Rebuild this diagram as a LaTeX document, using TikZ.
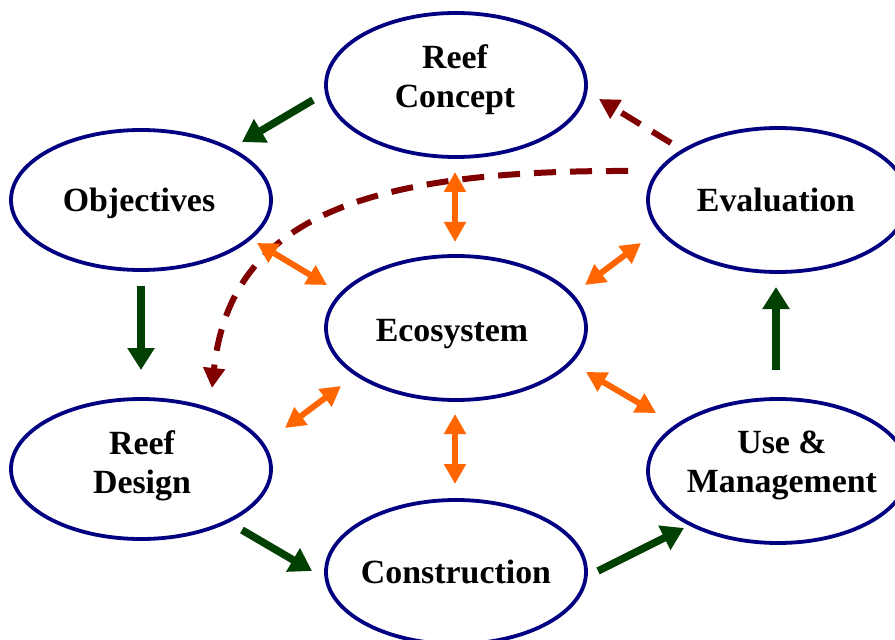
\documentclass[tikz,border=0pt]{standalone}
\usepackage{fontspec}
\setmainfont{Liberation Serif}
\usetikzlibrary{shapes.geometric,arrows.meta}
\definecolor{navy}{RGB}{0,0,128}
\definecolor{dgreen}{RGB}{0,64,0}
\definecolor{dred}{RGB}{128,0,0}
\definecolor{orng}{RGB}{255,102,0}
\begin{document}
\begin{tikzpicture}[x=1bp,y=-1bp,
 stage/.style={ellipse, draw=navy, line width=3.8bp, fill=white, minimum width=260bp, minimum height=144bp, inner sep=0pt},
 lbl/.style={font=\fontsize{34}{39}\selectfont\bfseries, align=center, inner sep=0pt},
 flow/.style={draw=dgreen, line width=7.5bp, -{Triangle[length=22bp,width=26bp]}},
 back/.style={draw=dred, line width=6bp, dash pattern=on 22bp off 14bp, -{Triangle[length=20bp,width=21bp]}},
 link/.style={draw=orng, line width=6bp, {Triangle[length=20bp,width=21bp]}-{Triangle[length=20bp,width=21bp]}}]
\fill[white] (0,0) rectangle (895,640);
\useasboundingbox (0,0) rectangle (895,640);
\node[stage] (rc) at (456,85) {};
\node[stage, minimum height=140bp] (obj) at (141,200) {};
\node[stage] (eval) at (778,200) {};
\node[stage] (eco) at (456,328) {};
\node[stage, minimum height=140bp] (rd) at (141,469) {};
\node[stage] (um) at (778,471) {};
\node[stage] (con) at (456,572) {};
\node[lbl] (trc) at (455,79.5) {Reef\\Concept};
\node[lbl, anchor=base] (tobj) at (139,212) {Objectives};
\node[lbl, anchor=base] (teval) at (776,212) {Evaluation};
\node[lbl, anchor=base] (teco) at (452,341) {Ecosystem};
\node[lbl] (trd) at (142,465.5) {Reef\\Design};
\node[lbl] (tum) at (782,465.5) {Use \&\\Management};
\node[lbl, anchor=base] (tcon) at (456,583) {Construction};
% main cycle
\draw[flow] ([shift={(-143,15)}]rc.center) -- ([shift={(101,-58)}]obj.center);
\draw[flow] ([shift={(0,86)}]obj.center) -- ([shift={(0,-99)}]rd.center);
\draw[flow] ([shift={(101,61)}]rd.center) -- ([shift={(-144,-1)}]con.center);
\draw[flow] ([shift={(142,-1)}]con.center) -- ([shift={(-94,57)}]um.center);
\draw[flow] ([shift={(-2,-101)}]um.center) -- ([shift={(-2,87)}]eval.center);
% feedback
\draw[back] ([shift={(-107,-57)}]eval.center) -- ([shift={(143,14)}]rc.center);
\draw[back] ([shift={(-150,-29)}]eval.center) .. controls (360,170) and (230,220) .. ([shift={(71,-81)}]rd.center);
% ecosystem links
\draw[link] ([shift={(-1,87)}]rc.center) -- ([shift={(-1,-86)}]eco.center);
\draw[link] ([shift={(116,43)}]obj.center) -- ([shift={(-129,-43)}]eco.center);
\draw[link] ([shift={(129,-43)}]eco.center) -- ([shift={(-137,43)}]eval.center);
\draw[link] ([shift={(-115,58)}]eco.center) -- ([shift={(144,-41)}]rd.center);
\draw[link] ([shift={(130,44)}]eco.center) -- ([shift={(-122,-58)}]um.center);
\draw[link] ([shift={(-1,86)}]eco.center) -- ([shift={(-1,-88)}]con.center);
\end{tikzpicture}
\end{document}
